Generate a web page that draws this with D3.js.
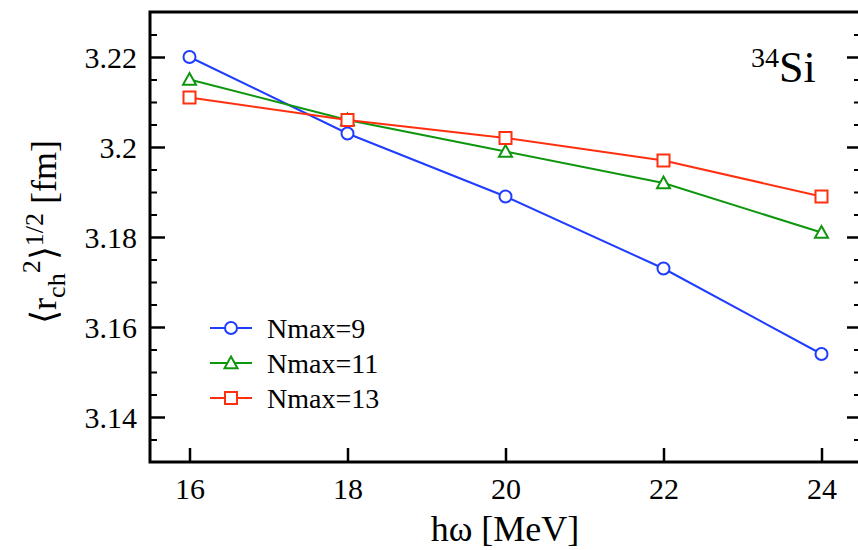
<!DOCTYPE html>
<html>
<head>
<meta charset="utf-8">
<script src="https://cdn.jsdelivr.net/npm/d3@7"></script>
<style>
  html, body { margin: 0; padding: 0; background: #fff; }
  svg { display: block; }
</style>
</head>
<body>
<svg id="chart" width="858" height="550"></svg>
<script>
// Oscillator frequency (MeV)
const hw = [16, 18, 20, 22, 24];
// Charge radius of 34Si (fm) for each model-space truncation
const nmax9 = [3.220, 3.203, 3.189, 3.173, 3.154];
const nmax11 = [3.215, 3.206, 3.199, 3.192, 3.181];
const nmax13 = [3.211, 3.206, 3.202, 3.197, 3.189];
const seriesNames = ["Nmax=9", "Nmax=11", "Nmax=13"];
const xTicks = [16, 18, 20, 22, 24];
const yTicks = [3.14, 3.16, 3.18, 3.2, 3.22];
const yTickLabels = ["3.14", "3.16", "3.18", "3.2", "3.22"];
const yMinorTicks = [3.135, 3.145, 3.15, 3.155, 3.165, 3.17, 3.175, 3.185, 3.19, 3.195, 3.205, 3.21, 3.215, 3.225];

const series = [
  { name: seriesNames[0], values: nmax9, color: "#1e3dff", symbol: "circle" },
  { name: seriesNames[1], values: nmax11, color: "#0f960f", symbol: "triangle" },
  { name: seriesNames[2], values: nmax13, color: "#ff3010", symbol: "square" }
];

const FONT = "'Liberation Serif', 'Times New Roman', Times, serif";

const svg = d3.select("#chart");
const plotLeft = 150, plotRight = 861, plotTop = 12, plotBottom = 462;

const x = d3.scaleLinear().domain([15.5, 24.5]).range([plotLeft, plotRight]);
const y = d3.scaleLinear().domain([3.13, 3.23]).range([plotBottom, plotTop]);

// Left axis with inward ticks
const yAxisL = svg.append("g").attr("transform", `translate(${plotLeft},0)`)
  .call(d3.axisLeft(y).tickValues(yTicks).tickSize(-15).tickPadding(13)
    .tickFormat((d, i) => yTickLabels[i]));
yAxisL.select(".domain").remove();
yAxisL.selectAll(".tick line").attr("stroke", "#000").attr("stroke-width", 2.5);
yAxisL.selectAll(".tick text")
  .style("font-family", FONT).style("font-size", "30px").attr("fill", "#000").attr("dy", "0.36em");

const yMinorL = svg.append("g").attr("transform", `translate(${plotLeft},0)`)
  .call(d3.axisLeft(y).tickValues(yMinorTicks).tickSize(-7).tickFormat(""));
yMinorL.select(".domain").remove();
yMinorL.selectAll(".tick line").attr("stroke", "#000").attr("stroke-width", 2);

// Right axis mirrors the ticks, without labels
const yAxisR = svg.append("g").attr("transform", `translate(${plotRight},0)`)
  .call(d3.axisRight(y).tickValues(yTicks).tickSize(-14).tickFormat(""));
yAxisR.select(".domain").remove();
yAxisR.selectAll(".tick line").attr("stroke", "#000").attr("stroke-width", 2.5);

const yMinorR = svg.append("g").attr("transform", `translate(${plotRight},0)`)
  .call(d3.axisRight(y).tickValues(yMinorTicks).tickSize(-7).tickFormat(""));
yMinorR.select(".domain").remove();
yMinorR.selectAll(".tick line").attr("stroke", "#000").attr("stroke-width", 2);

// Bottom axis
const xAxis = svg.append("g").attr("transform", `translate(0,${plotBottom})`)
  .call(d3.axisBottom(x).tickValues(xTicks).tickSize(-14).tickPadding(13).tickFormat(d3.format("d")));
xAxis.select(".domain").remove();
xAxis.selectAll(".tick line").attr("stroke", "#000").attr("stroke-width", 2.5);
xAxis.selectAll(".tick text")
  .style("font-family", FONT).style("font-size", "30px").attr("fill", "#000").attr("dy", "0.8em");

// Frame
svg.append("rect")
  .attr("x", plotLeft).attr("y", plotTop)
  .attr("width", plotRight - plotLeft).attr("height", plotBottom - plotTop)
  .attr("fill", "none").attr("stroke", "#000").attr("stroke-width", 3);

// Series lines and markers
const line = d3.line().x((d, i) => x(hw[i])).y(d => y(d));

function drawMarker(g, symbol, cx, cy, color) {
  if (symbol === "circle") {
    g.append("circle").attr("cx", cx).attr("cy", cy).attr("r", 6)
      .attr("fill", "#fff").attr("stroke", color).attr("stroke-width", 2);
  } else if (symbol === "square") {
    g.append("rect").attr("x", cx - 6).attr("y", cy - 6).attr("width", 12).attr("height", 12)
      .attr("fill", "#fff").attr("stroke", color).attr("stroke-width", 2);
  } else {
    const s = 6.5;
    g.append("path")
      .attr("d", `M${cx},${cy - s}L${cx + s},${cy + s * 0.8}L${cx - s},${cy + s * 0.8}Z`)
      .attr("fill", "#fff").attr("stroke", color).attr("stroke-width", 2);
  }
}

series.forEach(s => {
  const g = svg.append("g");
  g.append("path").datum(s.values).attr("d", line)
    .attr("fill", "none").attr("stroke", s.color).attr("stroke-width", 2);
  s.values.forEach((v, i) => drawMarker(g, s.symbol, x(hw[i]), y(v), s.color));
});

// Legend
const legendY = [328, 363, 398];
series.forEach((s, i) => {
  const g = svg.append("g");
  g.append("line").attr("x1", 210).attr("x2", 252).attr("y1", legendY[i]).attr("y2", legendY[i])
    .attr("stroke", s.color).attr("stroke-width", 2);
  drawMarker(g, s.symbol, 231, legendY[i], s.color);
  g.append("text").attr("x", 267).attr("y", legendY[i] + 10)
    .style("font-family", FONT).style("font-size", "28px").text(s.name);
});

// Nucleus label
const nuc = svg.append("text").attr("x", 751).attr("y", 82)
  .style("font-family", FONT).style("font-size", "44px");
nuc.append("tspan").style("font-size", "28px").attr("dy", "-15").text("34");
nuc.append("tspan").attr("dy", "15").text("Si");

// Axis titles
svg.append("text").attr("x", 505).attr("y", 541).attr("text-anchor", "middle")
  .style("font-family", FONT).style("font-size", "36px").text("hω [MeV]");

const yl = svg.append("text")
  .attr("transform", "translate(56,232) rotate(-90)")
  .attr("text-anchor", "middle")
  .style("font-family", FONT).style("font-size", "36px");
yl.append("tspan").text("⟨r");
yl.append("tspan").attr("dy", 9).style("font-size", "26px").text("ch");
yl.append("tspan").attr("dy", -25).style("font-size", "26px").text("2");
yl.append("tspan").attr("dy", 16).text("⟩");
yl.append("tspan").attr("dy", -13).style("font-size", "26px").text("1/2");
yl.append("tspan").attr("dy", 13).text(" [fm]");
</script>
</body>
</html>
